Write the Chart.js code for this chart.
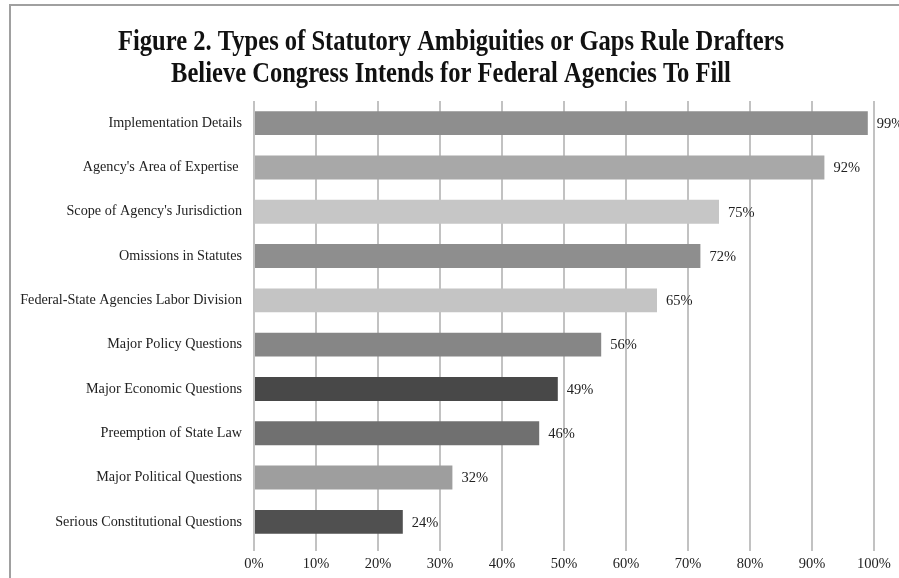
<!DOCTYPE html>
<html>
<head>
<meta charset="utf-8">
<script src="https://cdn.jsdelivr.net/npm/chart.js@4"></script>
<style>
  html, body { margin: 0; padding: 0; background: #fff; }
  #wrap { width: 899px; height: 578px; position: relative; }
</style>
</head>
<body>
<div id="wrap"><canvas id="gapsChart" width="899" height="578"></canvas></div>
<script>
const titleLines = [
  'Figure 2. Types of Statutory Ambiguities or Gaps Rule Drafters',
  'Believe Congress Intends for Federal Agencies To Fill'
]
const categories = [
  'Implementation Details',
  'Agency\'s Area of Expertise ',
  'Scope of Agency\'s Jurisdiction',
  'Omissions in Statutes',
  'Federal-State Agencies Labor Division',
  'Major Policy Questions',
  'Major Economic Questions',
  'Preemption of State Law',
  'Major Political Questions',
  'Serious Constitutional Questions'
]
const percentages = [99, 92, 75, 72, 65, 56, 49, 46, 32, 24]
const barColors = [
  '#8e8e8e', '#a8a8a8', '#c6c6c6', '#8e8e8e', '#c4c4c4',
  '#868686', '#484848', '#707070', '#9e9e9e', '#505050'
]

const serif = '"Liberation Serif", "Times New Roman", serif'

// frame lines and the condensed bold title
const decorPlugin = {
  id: 'decor',
  beforeDraw (chart) {
    const ctx = chart.ctx
    ctx.save()
    ctx.strokeStyle = '#a0a0a0'
    ctx.lineWidth = 2
    ctx.beginPath()
    ctx.moveTo(10, 578)
    ctx.lineTo(10, 5)
    ctx.lineTo(899, 5)
    ctx.stroke()

    ctx.fillStyle = '#111'
    ctx.font = 'bold 29px ' + serif
    ctx.textAlign = 'center'
    ctx.textBaseline = 'alphabetic'
    const sx = 666 / ctx.measureText(titleLines[0]).width
    ctx.translate(451, 0)
    ctx.scale(sx, 1)
    ctx.fillText(titleLines[0], 0, 50)
    ctx.fillText(titleLines[1], 0, 82)
    ctx.restore()
  }
}

// value labels at the end of each bar
const valueLabelPlugin = {
  id: 'valueLabels',
  afterDatasetsDraw (chart) {
    const ctx = chart.ctx
    const meta = chart.getDatasetMeta(0)
    ctx.save()
    ctx.font = '14.5px ' + serif
    ctx.fillStyle = '#222'
    ctx.textAlign = 'left'
    ctx.textBaseline = 'middle'
    meta.data.forEach((bar, i) => {
      ctx.fillText(percentages[i] + '%', bar.x + 9, bar.y + 1)
    })
    ctx.restore()
  }
}

new Chart(document.getElementById('gapsChart'), {
  type: 'bar',
  data: {
    labels: categories,
    datasets: [{
      data: percentages,
      backgroundColor: barColors,
      borderWidth: 0,
      barPercentage: 0.9,
      categoryPercentage: 0.6
    }]
  },
  options: {
    indexAxis: 'y',
    responsive: false,
    animation: false,
    layout: { padding: { top: 101, right: 25, left: 0, bottom: 0 } },
    plugins: {
      legend: { display: false },
      tooltip: { enabled: false }
    },
    scales: {
      x: {
        min: 0,
        max: 100,
        afterFit (scale) { scale.height = 34 },
        ticks: {
          stepSize: 10,
          padding: 4,
          color: '#222',
          font: { family: serif, size: 14.5 },
          callback: v => v + '%'
        },
        grid: { color: '#c2c2c2', lineWidth: 2, tickLength: 7, drawTicks: true },
        border: { display: false }
      },
      y: {
        afterFit (scale) { scale.width = 254 },
        ticks: {
          padding: 12,
          color: '#222',
          font: { family: serif, size: 14.2 }
        },
        grid: { display: false, drawTicks: false },
        border: { display: false }
      }
    }
  },
  plugins: [decorPlugin, valueLabelPlugin]
})
</script>
</body>
</html>
